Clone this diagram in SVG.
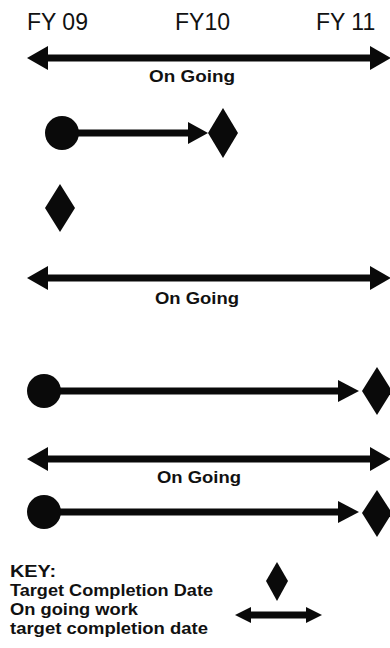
<svg xmlns="http://www.w3.org/2000/svg" width="390" height="648" viewBox="0 0 390 648">
<style>
.hdr{font-family:"Liberation Sans",Arial,sans-serif;font-size:23px;fill:#111}
.lbl{font-family:"Liberation Sans",Arial,sans-serif;font-size:17px;font-weight:bold;fill:#111}
.key{font-family:"Liberation Sans",Arial,sans-serif;font-size:16.5px;font-weight:bold;fill:#111}
.shp{fill:#0a0a0a}
.ln{stroke:#0a0a0a;stroke-width:7;fill:none}
</style>
<rect width="390" height="648" fill="#fff"/>
<g id="headers">
<text class="hdr" x="27" y="30">FY 09</text>
<text class="hdr" x="175" y="30">FY10</text>
<text class="hdr" x="316" y="30">FY 11</text>
</g>
<g id="connectors">
<line class="ln" x1="44" y1="58" x2="376" y2="58"/>
<polygon class="shp" points="27,58 48,46 48,70"/>
<polygon class="shp" points="391,58 370,46 370,70"/>
<line class="ln" x1="62" y1="133" x2="192" y2="133"/>
<polygon class="shp" points="208,133 188,122 188,144"/>
<line class="ln" x1="44" y1="278" x2="376" y2="278"/>
<polygon class="shp" points="27,278 48,266 48,290"/>
<polygon class="shp" points="391,278 370,266 370,290"/>
<line class="ln" x1="44" y1="391" x2="342" y2="391"/>
<polygon class="shp" points="359,391 338,380 338,402"/>
<line class="ln" x1="44" y1="459" x2="376" y2="459"/>
<polygon class="shp" points="27,459 48,447 48,471"/>
<polygon class="shp" points="391,459 370,447 370,471"/>
<line class="ln" x1="44" y1="512" x2="342" y2="512"/>
<polygon class="shp" points="359,512 338,501 338,523"/>
<line class="ln" x1="248" y1="615" x2="308" y2="615"/>
<polygon class="shp" points="235,615 251,607 251,623"/>
<polygon class="shp" points="322,615 306,607 306,623"/>
</g>
<g id="row1-label"><text class="lbl" x="149" y="82" textLength="86" lengthAdjust="spacingAndGlyphs">On Going</text></g>
<g id="row2-start"><circle class="shp" cx="62" cy="133" r="17"/></g>
<g id="row2-target"><polygon class="shp" points="223,108 238,133 223,158 208,133"/></g>
<g id="row3-target"><polygon class="shp" points="60,184 75,208 60,232 45,208"/></g>
<g id="row4-label"><text class="lbl" x="155" y="304" textLength="84" lengthAdjust="spacingAndGlyphs">On Going</text></g>
<g id="row5-start"><circle class="shp" cx="44" cy="391" r="17"/></g>
<g id="row5-target"><polygon class="shp" points="377,367 392,391 377,415 362,391"/></g>
<g id="row6-label"><text class="lbl" x="157" y="483" textLength="84" lengthAdjust="spacingAndGlyphs">On Going</text></g>
<g id="row7-start"><circle class="shp" cx="44" cy="512" r="17"/></g>
<g id="row7-target"><polygon class="shp" points="377,490 392,513 377,537 362,513"/></g>
<g id="key">
<text class="key" x="10" y="577" textLength="46" lengthAdjust="spacingAndGlyphs">KEY:</text>
<text class="key" x="10" y="596" textLength="203" lengthAdjust="spacingAndGlyphs">Target Completion Date</text>
<text class="key" x="10" y="615" textLength="128" lengthAdjust="spacingAndGlyphs">On going work</text>
<text class="key" x="10" y="634" textLength="198" lengthAdjust="spacingAndGlyphs">target completion date</text>
<polygon class="shp" points="277,562 288,581 277,601 266,581"/>
</g>
</svg>
